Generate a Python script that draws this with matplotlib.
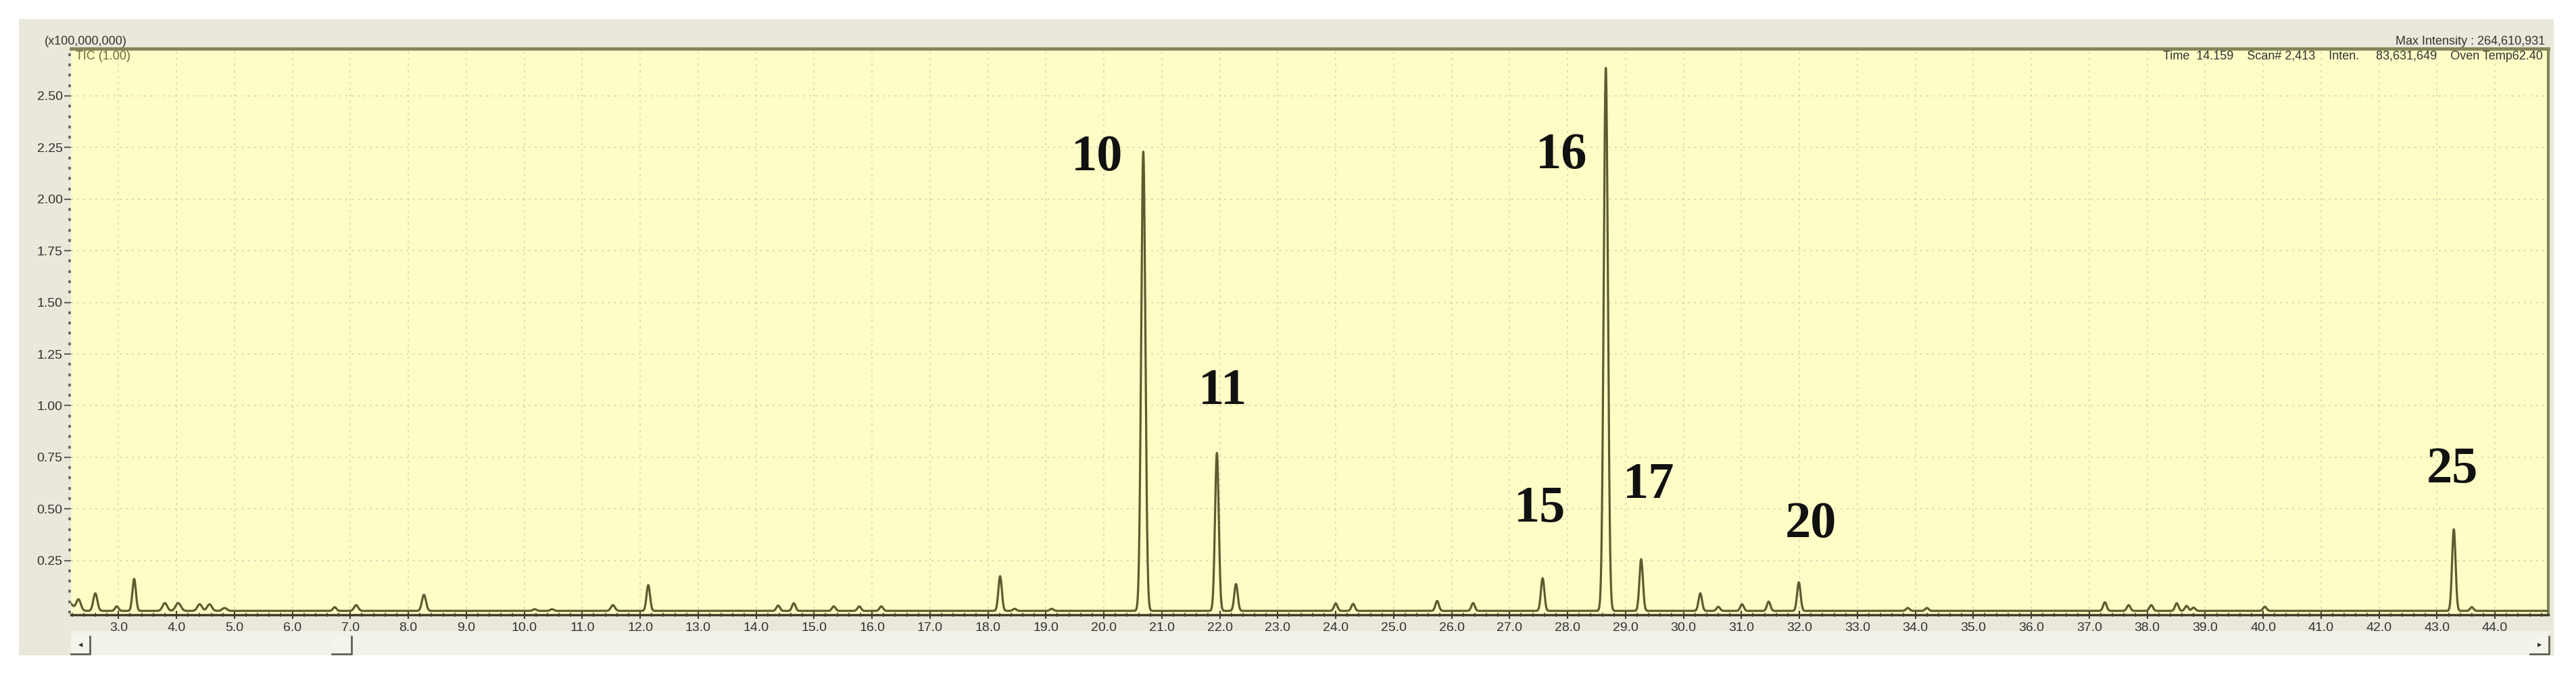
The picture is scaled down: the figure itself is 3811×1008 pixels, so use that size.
import numpy as np
import matplotlib
matplotlib.use('Agg')
import matplotlib.pyplot as plt
from matplotlib.ticker import MultipleLocator, FormatStrFormatter
from matplotlib.patches import Rectangle

# peak table: retention time (min), height (x1e8), width (min)
peak_rt = [2.15, 2.31, 2.60, 2.97, 3.27, 3.80, 4.03, 4.40, 4.57, 4.83,
           6.73, 7.10, 8.27, 10.18, 10.48, 11.53, 12.14, 14.38, 14.65, 15.34,
           15.78, 16.16, 18.21, 18.46, 19.10, 20.68, 21.95, 22.28, 24.00, 24.30,
           25.75, 26.37, 27.57, 28.66, 29.27, 30.29, 30.60, 31.01, 31.47, 31.99,
           33.87, 34.20, 37.27, 37.68, 38.07, 38.51, 38.68, 38.80, 40.03, 43.29,
           43.60]
peak_height = [0.040, 0.055, 0.085, 0.022, 0.155, 0.038, 0.038, 0.032, 0.032, 0.014,
               0.018, 0.028, 0.078, 0.008, 0.008, 0.028, 0.125, 0.026, 0.037, 0.022,
               0.022, 0.022, 0.168, 0.010, 0.010, 2.225, 0.765, 0.130, 0.036, 0.034,
               0.048, 0.038, 0.158, 2.630, 0.250, 0.085, 0.020, 0.032, 0.045, 0.138,
               0.014, 0.014, 0.042, 0.028, 0.028, 0.037, 0.024, 0.016, 0.020, 0.395,
               0.018]
peak_width = [0.06, 0.04, 0.035, 0.03, 0.03, 0.04, 0.045, 0.04, 0.04, 0.04,
              0.03, 0.035, 0.035, 0.03, 0.03, 0.035, 0.03, 0.03, 0.03, 0.03,
              0.03, 0.03, 0.03, 0.03, 0.03, 0.036, 0.032, 0.03, 0.03, 0.03,
              0.03, 0.03, 0.03, 0.036, 0.03, 0.03, 0.03, 0.03, 0.03, 0.03,
              0.03, 0.03, 0.03, 0.03, 0.03, 0.03, 0.03, 0.03, 0.03, 0.03,
              0.03]
baseline = 0.006

label_names = ['10', '11', '15', '16', '17', '20', '25']
label_rt = [19.88, 22.05, 27.52, 27.90, 29.40, 32.20, 43.26]
label_y = [2.20, 1.07, 0.50, 2.21, 0.615, 0.425, 0.69]

ytick_values = [0.25, 0.50, 0.75, 1.00, 1.25, 1.50, 1.75, 2.00, 2.25, 2.50]
xtick_values = list(range(3, 45))

t_start, t_end = 2.18, 44.92
t = np.linspace(t_start, t_end, 20000)
tic = np.full_like(t, baseline)
for rt, h, w in zip(peak_rt, peak_height, peak_width):
    tic += h * np.exp(-0.5 * ((t - rt) / w) ** 2)

W, H = 3811, 1008
plt.rcParams['font.family'] = ['Liberation Sans Narrow', 'Liberation Sans', 'DejaVu Sans']
fig = plt.figure(figsize=(W / 100, H / 100), dpi=100)
fig.patch.set_facecolor('white')

# grey window panel and the lighter scrollbar strip
fig.patches.append(Rectangle((28 / W, 1 - 970 / H), 3750 / W, 942 / H,
                             transform=fig.transFigure, facecolor='#e9e8da',
                             edgecolor='none', zorder=-2))
fig.patches.append(Rectangle((105 / W, 1 - 970 / H), 3667 / W, 36 / H,
                             transform=fig.transFigure, facecolor='#f2f1ea',
                             edgecolor='none', zorder=-1))

ax = fig.add_axes([105 / W, 1 - 910 / H, 3665 / W, 838 / H])
ax.set_zorder(2)
ax.set_facecolor('#fefdc6')
ax.plot(t, tic, color='#5c5c30', lw=2.3, zorder=3)
ax.set_xlim(t_start, t_end)
ax.set_ylim(-0.013, 2.729)

ax.set_yticks(ytick_values)
ax.yaxis.set_major_formatter(FormatStrFormatter('%.2f'))
ax.yaxis.set_minor_locator(MultipleLocator(0.05))
ax.set_xticks(xtick_values)
ax.xaxis.set_major_formatter(FormatStrFormatter('%.1f'))
ax.xaxis.set_minor_locator(MultipleLocator(0.2))

ax.tick_params(axis='y', which='major', length=7, width=1.5, color='#606060',
               labelsize=14, labelcolor='#333333', pad=2)
ax.tick_params(axis='y', which='minor', length=3, width=3, color='#707070')
ax.tick_params(axis='x', which='major', direction='inout', length=8, width=1.5,
               color='#404030', labelsize=14, labelcolor='#333333', pad=4)
ax.tick_params(axis='x', which='minor', direction='inout', length=5, width=1.2,
               color='#505040')

ax.grid(True, which='major', color='#d6d6b6', linestyle=(0, (1.5, 3.5)), lw=1.3)

ax.spines['left'].set_visible(False)
ax.spines['top'].set_color('#84845a')
ax.spines['top'].set_linewidth(3.5)
ax.spines['right'].set_color('#84845a')
ax.spines['right'].set_linewidth(3.0)
ax.spines['bottom'].set_color('#3e3e28')
ax.spines['bottom'].set_linewidth(2.5)

for name, x, y in zip(label_names, label_rt, label_y):
    ax.text(x, y, name, ha='center', va='center', fontsize=55, fontweight='bold',
            family=['Liberation Serif', 'DejaVu Serif'], color='#111111', zorder=5)

# header texts
fig.text(66 / W, 1 - 62 / H, '(x100,000,000)', fontsize=13, color='#333333',
         ha='left', va='center', zorder=4)
fig.text(112 / W, 1 - 84 / H, 'TIC (1.00)', fontsize=13, color='#6a6a30',
         ha='left', va='center', zorder=4)
fig.text(3765 / W, 1 - 61 / H, 'Max Intensity : 264,610,931', fontsize=13,
         color='#333333', ha='right', va='center', zorder=4)
fig.text(3762 / W, 1 - 83 / H,
         'Time  14.159    Scan# 2,413    Inten.     83,631,649    Oven Temp62.40',
         fontsize=13, color='#333333', ha='right', va='center', zorder=4)

# scrollbar buttons and thumb
for x0, x1, glyph in [(105, 133, '\u25c2'), (491, 520, ''), (3743, 3771, '\u25b8')]:
    fig.patches.append(Rectangle((x0 / W, 1 - 968 / H), (x1 - x0) / W, 26 / H,
                                 transform=fig.transFigure, facecolor='#f4f3ec',
                                 edgecolor='none', zorder=1))
    fig.lines.append(plt.Line2D([x0 / W, x1 / W, x1 / W],
                                [1 - 968 / H, 1 - 968 / H, 1 - 942 / H],
                                transform=fig.transFigure, color='#606050', lw=2))
    if glyph:
        fig.text((x0 + x1) / 2 / W, 1 - 955 / H, glyph, fontsize=9,
                 family=['DejaVu Sans'], color='#303030', ha='center', va='center')

fig.savefig('out.png', dpi=100)
